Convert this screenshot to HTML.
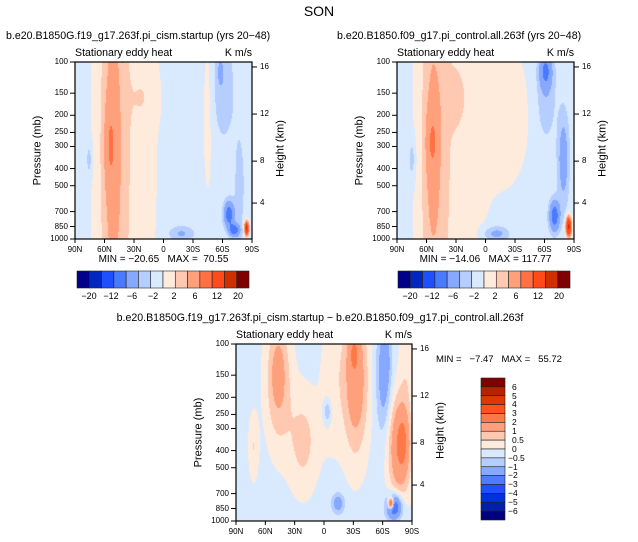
<!DOCTYPE html>
<html><head><meta charset="utf-8">
<style>
body{margin:0;background:#fff;}
#root{position:relative;width:638px;height:542px;overflow:hidden;background:#fff;font-family:"Liberation Sans",sans-serif;color:#000;}
.t{position:absolute;white-space:pre;line-height:1;}
canvas{position:absolute;}
svg{position:absolute;left:0;top:0;}
</style></head>
<body>
<div id="root">
<div class="t" style="left:0;width:638px;text-align:center;top:4px;font-size:14px;">SON</div>
<div class="t" style="left:6px;top:31px;font-size:10.6px;">b.e20.B1850G.f19_g17.263f.pi_cism.startup (yrs 20−48)</div>
<div class="t" style="left:337px;top:31px;font-size:10.6px;">b.e20.B1850.f09_g17.pi_control.all.263f (yrs 20−48)</div>
<div class="t" style="left:0;width:640px;text-align:center;top:313px;font-size:10.6px;">b.e20.B1850G.f19_g17.263f.pi_cism.startup − b.e20.B1850.f09_g17.pi_control.all.263f</div>
<svg id="ov" width="638" height="542"></svg>
</div>
<script>
// ---- colour scales / levels ----
const levels12 = [-20,-12,-6,-4,-2,-1,0,1,2,4,6,12,20];
const colors14 = ['#00008a','#0028c0','#1f50ff','#4a7aff','#86a8ff','#b6ceff','#d9eaff','#ffebdc','#ffc8b0','#ffa07c','#ff7044','#ff4a1a','#d03000','#800000'];
const cbarLabels12 = ['-20','-12','-6','-2','2','6','12','20'];
const levels3 = [-6,-5,-4,-3,-2,-1,-0.5,0,0.5,1,2,3,4,5,6];
const colors16 = ['#000080','#0020a8','#0030e0','#1f50ff','#4d7cff','#86a8ff','#b6ceff','#d9eaff','#ffebdc','#ffc8b0','#ffa07c','#ff7848','#ff5020','#dd3800','#b52400','#800000'];
const legend3Labels = ['6','5','4','3','2','1','0.5','0','-0.5','-1','-2','-3','-4','-5','-6'];
// ---- axes data ----
const pressureTicks = [100,150,200,250,300,400,500,700,850,1000];
const heightTicks = [16,12,8,4];
const heightFrac = [0.028,0.294,0.56,0.797];
const latTicks = [90,60,30,0,-30,-60,-90];
const latLabels = ['90N','60N','30N','0','30S','60S','90S'];
// ---- field blobs: [x, y, sx, sy, amplitude] (x:0=90N..1=90S, y:0=100mb..1=1000mb) ----
const base1 = -0.4;
const blobs1 = [[0.28,0.5,0.12,2,1.25],[0.21,0.5,0.045,0.7,2.1],[0.2,0.47,0.02,0.15,1.8],[0.4,0.2,0.05,0.12,0.6],
 [0.75,0.3,0.02,0.35,0.8],[0.08,0.55,0.012,0.07,-1.3],[0.84,0.15,0.045,0.22,-1.2],[0.82,0.05,0.015,0.07,-1.0],
 [0.93,0.7,0.025,0.25,-0.9],[0.6,0.97,0.05,0.03,-1.8],[0.87,0.86,0.02,0.05,-5],[0.9,0.95,0.02,0.025,-5],[0.97,0.94,0.008,0.025,14]];
const base2 = -0.4;
const blobs2 = [[0.3,0.5,0.13,2,1.2],[0.2,0.5,0.045,0.6,2.1],[0.2,0.45,0.02,0.11,2.0],[0.33,0.2,0.05,0.12,0.6],
 [0.62,0.3,0.1,0.3,0.9],[0.085,0.55,0.015,0.09,-1.3],[0.84,0.05,0.025,0.07,-3.5],[0.84,0.2,0.04,0.18,-1.3],
 [0.94,0.55,0.022,0.18,-2.6],[0.56,0.97,0.05,0.03,-2.2],[0.89,0.87,0.02,0.06,-5],[0.97,0.93,0.01,0.035,14]];
const base3 = -0.2;
const blobs3 = [[0.24,0.2,0.05,0.25,1.4],[0.24,0.15,0.02,0.09,0.5],[0.55,0.2,0.05,0.3,0.5],[0.68,0.2,0.05,0.3,1.8],
 [0.67,0.05,0.02,0.07,1.0],[0.84,0.18,0.03,0.22,-1.3],[0.85,0.1,0.015,0.08,-0.6],[0.97,0.1,0.03,0.2,0.5],
 [0.93,0.58,0.045,0.2,2.2],[0.95,0.55,0.02,0.1,0.8],[0.38,0.55,0.06,0.2,0.9],[0.1,0.58,0.02,0.13,0.7],
 [0.52,0.38,0.015,0.05,-1.0],[0.58,0.9,0.025,0.04,-1.3],[0.9,0.92,0.03,0.05,-3],[0.88,0.9,0.01,0.02,5]];

const root = document.getElementById('root');
const ov = document.getElementById('ov');
const NS = 'http://www.w3.org/2000/svg';
function svgEl(tag, attrs){const e=document.createElementNS(NS,tag);for(const k in attrs)e.setAttribute(k,attrs[k]);ov.appendChild(e);return e;}
function txt(s,x,y,size,align,extra){const d=document.createElement('div');d.className='t';d.textContent=s;
 d.style.fontSize=size+'px';d.style.top=(y-size/2)+'px';
 if(align==='r'){d.style.right=(638-x)+'px';}else if(align==='c'){d.style.left=(x-100)+'px';d.style.width='200px';d.style.textAlign='center';}else{d.style.left=x+'px';}
 if(extra)d.style.cssText+=extra;root.appendChild(d);return d;}
function field(blobs,base,x,y){let v=base;for(const b of blobs){const dx=(x-b[0])/b[2],dy=(y-b[1])/b[3];v+=b[4]*Math.exp(-0.5*(dx*dx+dy*dy));}return v;}
function idx(levels,v){let i=0;for(const l of levels){if(v>=l)i++;}return i;}
const yP = p => Math.log10(p/100);
const xL = lat => (90-lat)/180;

function panel(name,X,Y,W,H,blobs,base,levels,colors,minmax){
 const cv=document.createElement('canvas');cv.width=W;cv.height=H;cv.style.left=X+'px';cv.style.top=Y+'px';
 
 
 root.insertBefore(cv,ov);
 const ctx=cv.getContext('2d');const img=ctx.createImageData(W,H);
 const rgb=colors.map(c=>[parseInt(c.slice(1,3),16),parseInt(c.slice(3,5),16),parseInt(c.slice(5,7),16)]);
 for(let j=0;j<H;j++)for(let i=0;i<W;i++){const c=rgb[idx(levels,field(blobs,base,(i+0.5)/W,(j+0.5)/H))];const o=(j*W+i)*4;img.data[o]=c[0];img.data[o+1]=c[1];img.data[o+2]=c[2];img.data[o+3]=255;}
 ctx.putImageData(img,0,0);
 const fr=svgEl('rect',{x:X,y:Y,width:W,height:H,fill:'none',stroke:'#000','stroke-width':1.2});
 
 
 pressureTicks.forEach(p=>{const y=Y+yP(p)*H;svgEl('line',{x1:X-5,y1:y,x2:X,y2:y,stroke:'#000'});
  const t=txt(String(p),X-7,y,8,'r');
  
  });
 heightTicks.forEach((h,k)=>{const y=Y+heightFrac[k]*H;svgEl('line',{x1:X+W,y1:y,x2:X+W+5,y2:y,stroke:'#000'});
  const t=txt(String(h),X+W+8,y,8,'l');
  
  });
 latTicks.forEach((l,k)=>{const x=X+xL(l)*W;svgEl('line',{x1:x,y1:Y+H,x2:x,y2:Y+H+4,stroke:'#000'});
  const t=txt(latLabels[k],x,Y+H+11,8,'c');
  
  });
 const a=txt('Pressure (mb)',X-37,Y+H/2,11,'c','transform:rotate(-90deg);');
 
 
 const b=txt('Height (km)',X+W+29,Y+H/2-2,11,'c','transform:rotate(-90deg);');
 
 
 const s=txt('Stationary eddy heat',X,Y-9,10.6,'l');
 
 
 const u=txt('K m/s',X+W,Y-9,10.6,'r');
 
 
 if(minmax){const m=txt(minmax,X+W/2,Y+H+21,10,'c');
  
  }
}
function hbar(name,X,Y,W,H,labelX){
 const n=colors14.length,bw=W/n;
 colors14.forEach((c,k)=>{const r=svgEl('rect',{x:X+k*bw,y:Y,width:bw,height:H,fill:c,stroke:'#222','stroke-width':0.6});
  
  });
 cbarLabels12.forEach((s,k)=>{const t=txt(s.replace('-','−'),labelX[k],Y+H+8,9,'c');
  
  });
}
panel('panel1',75,62,177,177,blobs1,base1,levels12,colors14,'MIN = −20.65   MAX =  70.55');
panel('panel2',397,62,177,177,blobs2,base2,levels12,colors14,'MIN = −14.06   MAX = 117.77');
panel('panel3',236,344,176,177,blobs3,base3,levels3,colors16,null);
hbar('colorbar1',77,271,172,17,[89,111,132,153,174,195,217,238]);
hbar('colorbar2',398,271,172,17,[410,432,453,474,495,516,538,559]);
const mm=txt('MIN =   −7.47   MAX =   55.72',436,360,9.5,'l');


// vertical legend for panel 3 (top = highest)
const LX=481,LY=378,LW=24,LH=142,bh=LH/colors16.length;
colors16.slice().reverse().forEach((c,k)=>{const r=svgEl('rect',{x:LX,y:LY+k*bh,width:LW,height:bh,fill:c,stroke:'#222','stroke-width':0.6});
 
 });
legend3Labels.forEach((s,k)=>{const t=txt(s.replace('-','−'),LX+LW+(s[0]==='-'?3:7),LY+(k+1)*bh,8.5,'l');
 
 });
</script>
</body></html>
